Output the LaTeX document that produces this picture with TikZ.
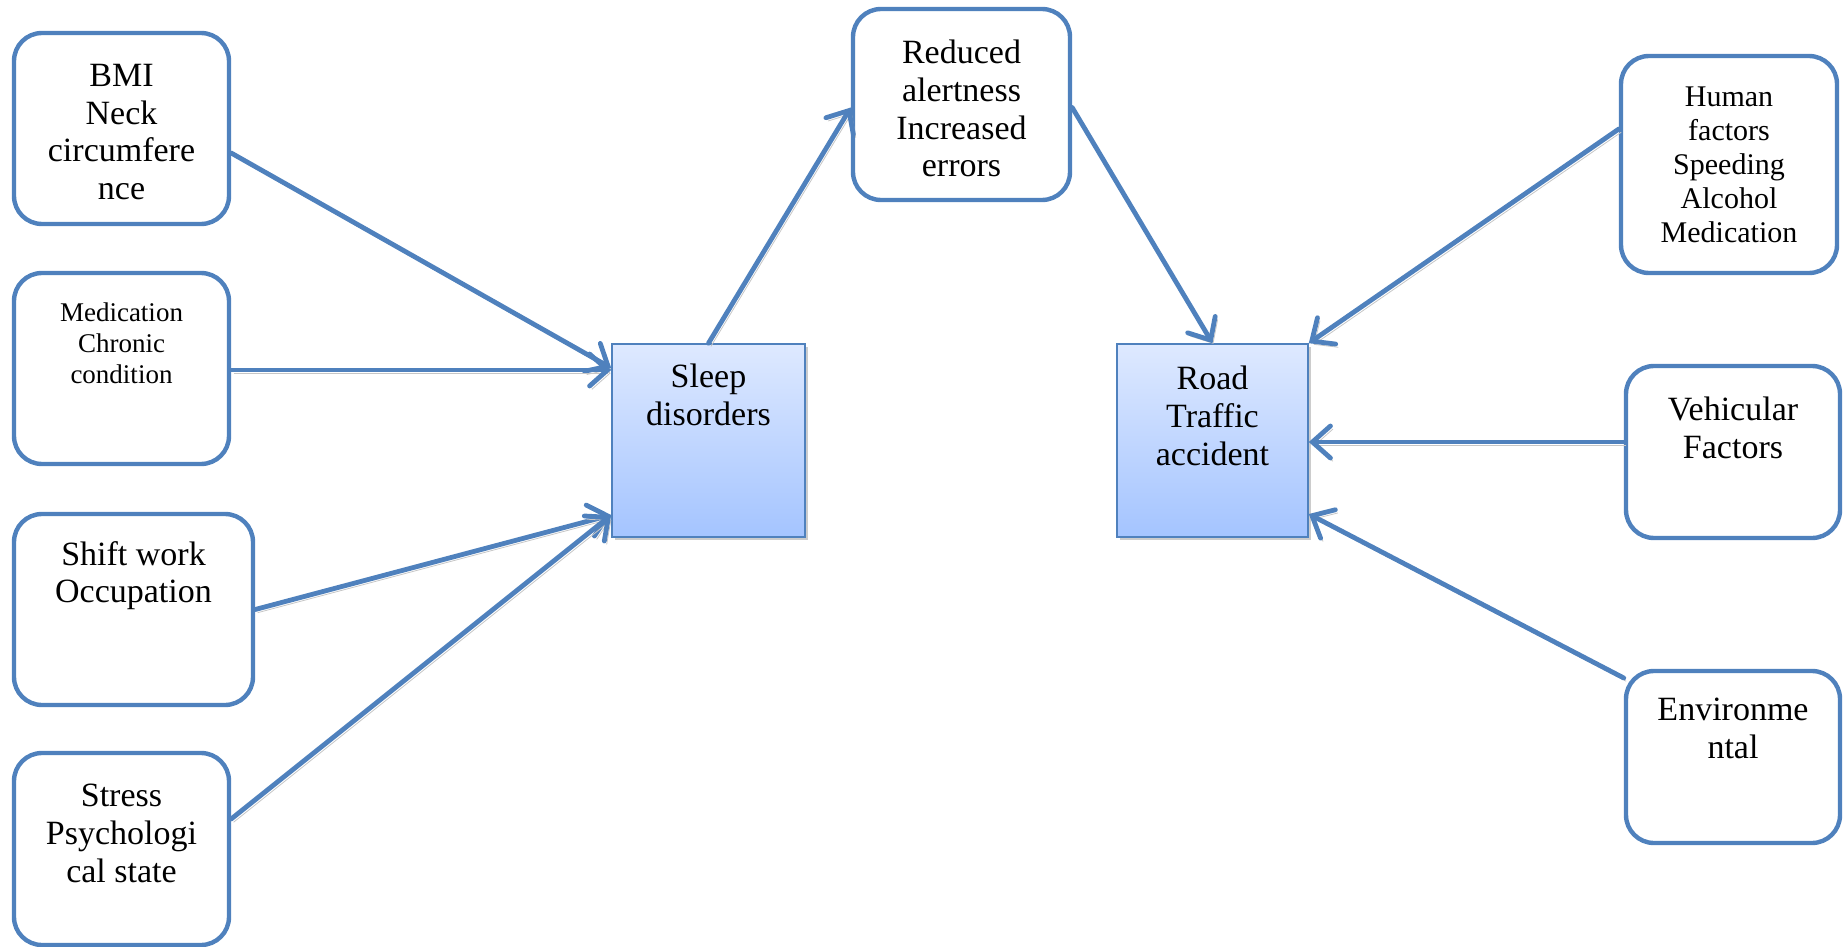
\documentclass[tikz,border=0pt]{standalone}
\usepackage{fontspec}
\setmainfont{Liberation Serif}
\usetikzlibrary{arrows.meta}
\definecolor{ablue}{RGB}{79,129,189}
\definecolor{topb}{RGB}{222,233,255}
\definecolor{botb}{RGB}{164,196,255}
\begin{document}
\begin{tikzpicture}[x=0.5pt,y=-0.5pt,
  rbox/.style={draw=ablue, line width=2.2pt, rounded corners=14pt, fill=white, inner sep=0},
  sqbox/.style={draw=ablue, line width=0.8pt, top color=topb, bottom color=botb, inner sep=0,
    preaction={fill=gray!40, transform canvas={shift={(1.5pt,-1.5pt)}}}},
  txt/.style={anchor=north, align=center, inner sep=0, font=\fontsize{17}{18.8}\selectfont},
  conn/.style={draw=ablue, line width=2.4pt, line cap=round, line join=round,
    -{Straight Barb[length=9pt,width=16pt,line cap=round]},
    preaction={draw=gray!45, transform canvas={shift={(1.2pt,-1.6pt)}}}}
]
\useasboundingbox (0,0) rectangle (1843,947);

% boxes
\node[rbox, minimum width=107.5pt, minimum height=95.5pt] (bmi) at (121.5,128.5) {};
\node[rbox, minimum width=107.5pt, minimum height=95.5pt] (med) at (121.5,368.5) {};
\node[rbox, minimum width=119.5pt, minimum height=95.5pt] (shift) at (133.5,609.5) {};
\node[rbox, minimum width=107.5pt, minimum height=96pt] (stress) at (121.5,849) {};
\node[sqbox, minimum width=96.5pt, minimum height=96.5pt] (sleep) at (708.5,440.5) {};
\node[rbox, minimum width=108.5pt, minimum height=95.5pt] (reduced) at (961.5,104.5) {};
\node[sqbox, minimum width=95.5pt, minimum height=96.5pt] (road) at (1212.5,440.5) {};
\node[rbox, minimum width=108pt, minimum height=108.5pt] (human) at (1729,164.5) {};
\node[rbox, minimum width=107pt, minimum height=86pt] (veh) at (1733,452) {};
\node[rbox, minimum width=107pt, minimum height=86pt] (env) at (1733,757) {};

% texts
\node[txt] (bmi-t) at (121.5,64) {BMI\\Neck\\circumfere\\nce};
\node[txt, font=\fontsize{13.5}{15.6}\selectfont] (med-t) at (121.5,302) {Medication\\Chronic\\condition};
\node[txt] (shift-t) at (133.5,541) {Shift work\\Occupation};
\node[txt] (stress-t) at (121.5,784) {Stress\\Psychologi\\cal state};
\node[txt] (sleep-t) at (708.5,364) {Sleep\\disorders};
\node[txt] (reduced-t) at (961.5,40) {Reduced\\alertness\\Increased\\errors};
\node[txt] (road-t) at (1212.5,366) {Road\\Traffic\\accident};
\node[txt, font=\fontsize{15}{17}\selectfont] (human-t) at (1729,86) {Human\\factors\\Speeding\\Alcohol\\Medication};
\node[txt] (veh-t) at (1733,397) {Vehicular\\Factors};
\node[txt] (env-t) at (1733,698) {Environme\\ntal};

% connectors
\draw[conn] ([yshift=-12.25pt]bmi.east) -- ([yshift=36.25pt]sleep.west);
\draw[conn] ([yshift=-0.75pt]med.east) -- ([yshift=-0.75pt]med.east -| sleep.west);
\draw[conn] (shift.east) -- ([yshift=-37.25pt]sleep.west);
\draw[conn] ([yshift=15pt]stress.east) -- ([yshift=-37.25pt]sleep.west);
\draw[conn] (sleep.north) -- ([yshift=-1.5pt]reduced.west);
\draw[conn] ([yshift=-1.5pt]reduced.east) -- (road.north);
\draw[conn] ([yshift=17.75pt]human.west) -- (road.north east);
\draw[conn] ([yshift=-0.75pt]road.east -| veh.west) -- ([yshift=-0.75pt]road.east);
\draw[conn] ([yshift=39.5pt]env.west) -- ([yshift=-36.75pt]road.east);
\end{tikzpicture}
\end{document}
